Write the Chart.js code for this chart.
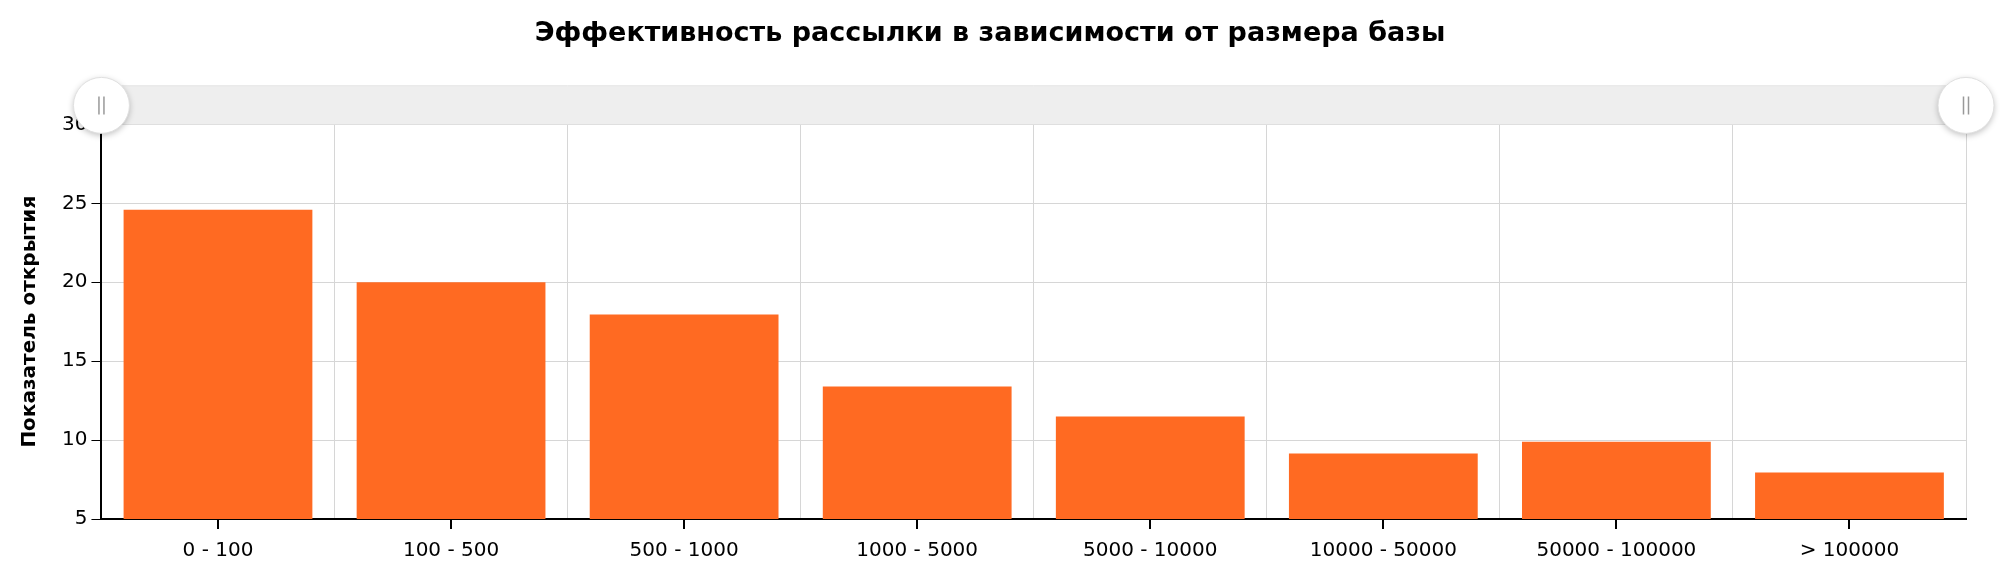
<!DOCTYPE html>
<html>
<head>
<meta charset="utf-8">
<script src="https://cdn.jsdelivr.net/npm/chart.js@4"></script>
<style>
  body { margin: 0; background: #fff; }
  #wrap { width: 2000px; height: 585px; }
</style>
</head>
<body>
<div id="wrap"><canvas id="chart"></canvas></div>
<script>
const categories = ["0 - 100", "100 - 500", "500 - 1000", "1000 - 5000", "5000 - 10000", "10000 - 50000", "50000 - 100000", "> 100000"];
const openRate = [24.6, 20.0, 17.95, 13.4, 11.5, 9.15, 9.9, 7.95];
const yTicks = [5, 10, 15, 20, 25, 30];

// zoom slider above the plot area, plus tick marks at the category centres
const sliderPlugin = {
  id: "slider",
  afterDraw(chart) {
    const ctx = chart.ctx;
    const a = chart.chartArea;
    const xs = chart.scales.x;
    ctx.save();
    ctx.strokeStyle = "#000";
    ctx.lineWidth = 2;
    categories.forEach((c, i) => {
      const x = Math.round(xs.getPixelForValue(i));
      ctx.beginPath();
      ctx.moveTo(x, a.bottom);
      ctx.lineTo(x, a.bottom + 10);
      ctx.stroke();
    });
    ctx.lineWidth = 1;
    ctx.fillStyle = "#eeeeee";
    ctx.fillRect(a.left, a.top - 38, a.right - a.left, 38);
    ctx.strokeStyle = "#dddddd";
    ctx.beginPath();
    ctx.moveTo(a.left, a.top - 38.5);
    ctx.lineTo(a.right, a.top - 38.5);
    ctx.stroke();
    [a.left, a.right].forEach((x) => {
      const y = a.top - 19;
      ctx.shadowColor = "rgba(0,0,0,0.25)";
      ctx.shadowBlur = 6;
      ctx.shadowOffsetY = 2;
      ctx.fillStyle = "#ffffff";
      ctx.beginPath();
      ctx.arc(x, y, 28, 0, Math.PI * 2);
      ctx.fill();
      ctx.shadowColor = "transparent";
      ctx.strokeStyle = "#e0e0e0";
      ctx.stroke();
      ctx.strokeStyle = "#999999";
      ctx.lineWidth = 1.5;
      ctx.beginPath();
      ctx.moveTo(x - 2.5, y - 9); ctx.lineTo(x - 2.5, y + 9);
      ctx.moveTo(x + 2.5, y - 9); ctx.lineTo(x + 2.5, y + 9);
      ctx.stroke();
      ctx.lineWidth = 1;
    });
    ctx.restore();
  },
};

new Chart(document.getElementById("chart"), {
  type: "bar",
  data: {
    labels: categories,
    datasets: [
      {
        label: "Показатель открытия",
        data: openRate,
        backgroundColor: "#ff6a22",
        categoryPercentage: 1,
        barPercentage: 0.81,
      },
    ],
  },
  options: {
    responsive: true,
    maintainAspectRatio: false,
    animation: false,
    layout: { padding: { top: 0, right: 34, left: 14, bottom: 2 } },
    plugins: {
      legend: { display: false },
      tooltip: { enabled: false },
      title: {
        display: true,
        text: "Эффективность рассылки в зависимости от размера базы",
        color: "#000",
        font: { family: "DejaVu Sans", size: 27, weight: "bold" },
        padding: { top: 18, bottom: 74 },
      },
    },
    scales: {
      x: {
        grid: { color: "#d6d6d6", offset: true, drawTicks: false },
        border: { color: "#000", width: 2 },
        ticks: { color: "#000", font: { family: "DejaVu Sans", size: 20 }, padding: 20 },
      },
      y: {
        min: 5,
        max: 30,
        afterBuildTicks: (axis) => { axis.ticks = yTicks.map((v) => ({ value: v })); },
        grid: { color: "#d6d6d6", tickColor: "#000", tickLength: 10 },
        border: { color: "#000", width: 2 },
        ticks: { color: "#000", font: { family: "DejaVu Sans", size: 20 }, padding: 4 },
        title: {
          display: true,
          text: "Показатель открытия",
          color: "#000",
          font: { family: "DejaVu Sans", size: 20, weight: "bold" },
          padding: { bottom: 16 },
        },
      },
    },
  },
  plugins: [sliderPlugin],
});
</script>
</body>
</html>
